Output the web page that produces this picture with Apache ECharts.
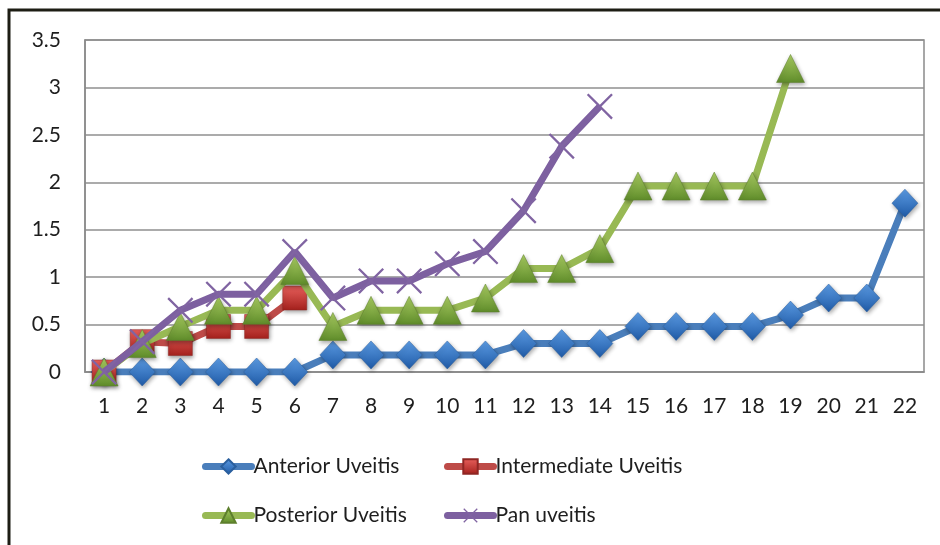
<!DOCTYPE html>
<html>
<head>
<meta charset="utf-8">
<script src="https://cdn.jsdelivr.net/npm/echarts@6/dist/echarts.min.js"></script>
<style>
  html, body { margin: 0; padding: 0; background: #fff; }
  #chart { width: 940px; height: 545px; }
</style>
</head>
<body>
<div id="chart"></div>
<script>
// Category labels along the x axis
const categories = ['1','2','3','4','5','6','7','8','9','10','11','12','13','14','15','16','17','18','19','20','21','22'];

// Series values
const anterior     = [0, 0, 0, 0, 0, 0, 0.18, 0.18, 0.18, 0.18, 0.18, 0.3, 0.3, 0.3, 0.48, 0.48, 0.48, 0.48, 0.6, 0.78, 0.78, 1.78];
const intermediate = [0, 0.32, 0.3, 0.48, 0.48, 0.78, null, null, null, null, null, null, null, null, null, null, null, null, null, null, null, null];
const posterior    = [0, 0.3, 0.48, 0.65, 0.65, 1.07, 0.48, 0.65, 0.65, 0.65, 0.78, 1.09, 1.09, 1.3, 1.96, 1.96, 1.96, 1.96, 3.2, null, null, null];
const pan          = [0, 0.32, 0.65, 0.82, 0.82, 1.27, 0.78, 0.96, 0.96, 1.14, 1.27, 1.7, 2.38, 2.8, null, null, null, null, null, null, null, null];

// Y axis ticks
const yTicks = [0, 0.5, 1, 1.5, 2, 2.5, 3, 3.5];

const seriesNames = ['Anterior Uveitis', 'Intermediate Uveitis', 'Posterior Uveitis', 'Pan uveitis'];
const lineColors = ['#4a7ebb', '#be4b48', '#98b954', '#7d60a0'];

const FONT = 'Lato';
const TEXT = '#1e1e1e';

function grad(top, bottom) {
  return new echarts.graphic.LinearGradient(0, 0, 0, 1, [
    { offset: 0, color: top },
    { offset: 1, color: bottom }
  ]);
}

const markerShadow = {
  shadowBlur: 4,
  shadowColor: 'rgba(0,0,0,0.35)',
  shadowOffsetX: 1,
  shadowOffsetY: 2
};

// Thin cross used as the marker of the last series
const crossPath = 'path://M0,1.5 L1.5,0 L12,10.5 L22.5,0 L24,1.5 L13.5,12 L24,22.5 L22.5,24 L12,13.5 L1.5,24 L0,22.5 L10.5,12 Z';

const chart = echarts.init(document.getElementById('chart'), null, { renderer: 'canvas' });

function legendAt(idx, left, top) {
  return {
    data: [seriesNames[idx]],
    left: left,
    top: top,
    itemWidth: 46,
    itemHeight: 18,
    itemGap: 0,
    lineStyle: { width: 7, color: lineColors[idx], cap: 'round' },
    textStyle: { fontFamily: FONT, fontSize: 21, color: TEXT, padding: [0, 0, 0, -3] },
    selectedMode: false
  };
}

chart.setOption({
  animation: false,
  backgroundColor: '#fff',
  graphic: [{
    type: 'rect',
    shape: { x: 9, y: 10, width: 1000, height: 600 },
    style: { fill: 'none', stroke: '#1d1d14', lineWidth: 3 },
    silent: true
  }],
  grid: {
    left: 85, right: 16, top: 40, bottom: 173,
    show: true,
    borderColor: '#8a8a8a',
    borderWidth: 1.5,
    backgroundColor: 'transparent'
  },
  legend: [
    legendAt(0, 197, 451),
    legendAt(1, 439, 451),
    legendAt(2, 197, 500),
    legendAt(3, 439, 500)
  ],
  xAxis: {
    type: 'category',
    data: categories,
    boundaryGap: true,
    axisLine: { show: true, lineStyle: { color: '#8a8a8a', width: 1.5 } },
    axisTick: { show: false },
    axisLabel: { fontFamily: FONT, fontSize: 21, color: TEXT, margin: 24, interval: 0 },
    splitLine: { show: false }
  },
  yAxis: {
    type: 'value',
    min: yTicks[0],
    max: yTicks[yTicks.length - 1],
    interval: 0.5,
    axisLine: { show: true, lineStyle: { color: '#8a8a8a', width: 1.5 } },
    axisTick: { show: false },
    axisLabel: { fontFamily: FONT, fontSize: 21, color: TEXT, margin: 24 },
    splitLine: { show: true, lineStyle: { color: '#8f8f8f', width: 1.5 } }
  },
  series: [
    {
      name: seriesNames[0],
      type: 'line',
      data: anterior,
      symbol: 'diamond',
      symbolSize: [26, 28],
      lineStyle: { color: lineColors[0], width: 7 },
      itemStyle: Object.assign({ color: grad('#5b9be3', '#1f5aa6'), borderColor: '#2a5f9e', borderWidth: 0.5 }, markerShadow),
      z: 2
    },
    {
      name: seriesNames[1],
      type: 'line',
      data: intermediate,
      symbol: 'rect',
      symbolSize: [24, 24],
      lineStyle: { color: lineColors[1], width: 7 },
      itemStyle: Object.assign({ color: grad('#e8605c', '#a4211d'), borderColor: '#8f2623', borderWidth: 0.5 }, markerShadow),
      z: 3
    },
    {
      name: seriesNames[2],
      type: 'line',
      data: posterior,
      symbol: 'triangle',
      symbolSize: [28, 28],
      lineStyle: { color: lineColors[2], width: 7 },
      itemStyle: Object.assign({ color: grad('#a9cc62', '#5f8c2a'), borderColor: '#5d7f2c', borderWidth: 0.5 }, markerShadow),
      z: 4
    },
    {
      name: seriesNames[3],
      type: 'line',
      data: pan,
      symbol: crossPath,
      symbolSize: [26, 26],
      lineStyle: { color: lineColors[3], width: 7 },
      itemStyle: { color: '#8064a2' },
      z: 5
    }
  ]
});
</script>
</body>
</html>
